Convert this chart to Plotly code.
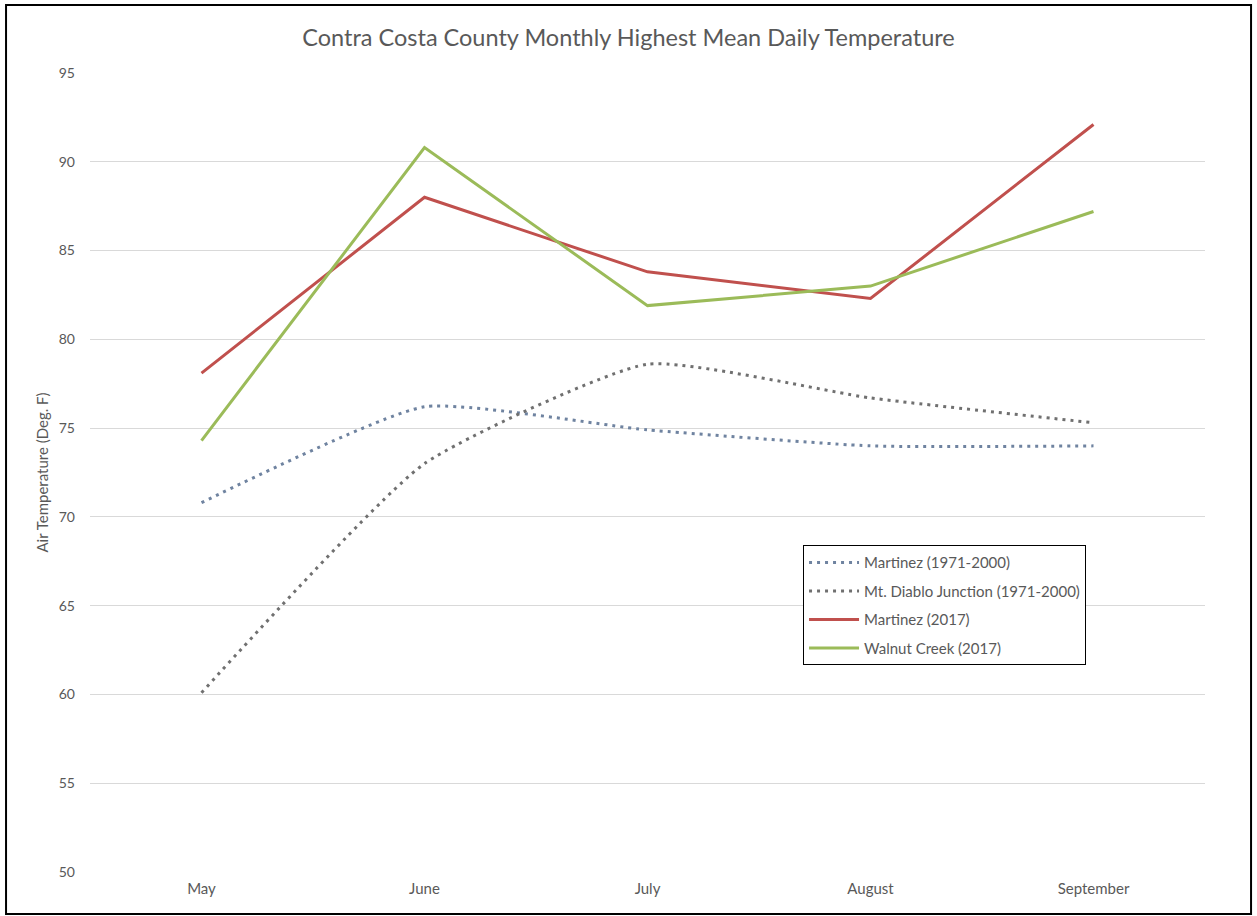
"""
Temperaturas medias diarias más altas por mes - Contra Costa County.
"""

import plotly.graph_objects as go

months = ["May", "June", "July", "August", "September"]

martinez_normal = [70.8, 76.2, 74.9, 74.0, 74.0]
diablo_normal = [60.1, 73.0, 78.6, 76.7, 75.3]
martinez_2017 = [78.1, 88.0, 83.8, 82.3, 92.1]
walnut_2017 = [74.3, 90.8, 81.9, 83.0, 87.2]

y_ticks = [50, 55, 60, 65, 70, 75, 80, 85, 90, 95]

FONT = "Lato, 'Open Sans', sans-serif"
GREY = "#595959"

fig = go.Figure()

# Series normales (punteadas, suavizadas como en Excel)
fig.add_trace(go.Scatter(
    x=months, y=martinez_normal, mode='lines',
    name='Martinez (1971-2000)', legendgroup='a',
    line=dict(color='#6f83a0', width=3, dash='3px,5px', shape='spline', smoothing=0.5)
))
fig.add_trace(go.Scatter(
    x=months, y=diablo_normal, mode='lines',
    name='Mt. Diablo Junction (1971-2000)', legendgroup='b',
    line=dict(color='#707070', width=3, dash='3px,5px', shape='spline', smoothing=0.5)
))

# Series 2017
fig.add_trace(go.Scatter(
    x=months, y=martinez_2017, mode='lines',
    name='Martinez (2017)', legendgroup='c',
    line=dict(color='#c0504d', width=3)
))
fig.add_trace(go.Scatter(
    x=months, y=walnut_2017, mode='lines',
    name='Walnut Creek (2017)', legendgroup='d',
    line=dict(color='#9bbb59', width=3)
))

# Borde exterior del gráfico
fig.add_shape(
    type='rect', xref='paper', yref='paper',
    x0=-0.0753, x1=1.0413, y0=-0.0526, y1=1.0851,
    line=dict(color='black', width=2), fillcolor='rgba(0,0,0,0)', layer='below'
)

fig.update_layout(
    width=1257, height=916,
    margin=dict(l=90, r=52, t=73, b=44),
    paper_bgcolor='white', plot_bgcolor='white',
    font=dict(family=FONT, color=GREY, size=15),
    title=dict(
        text="Contra Costa County Monthly Highest Mean Daily Temperature",
        x=0.5, xanchor='center', y=1 - 38 / 916, yanchor='middle',
        font=dict(size=23.5, color=GREY, family=FONT)
    ),
    xaxis=dict(
        range=[-0.5, 4.5], showgrid=False, zeroline=False,
        showline=False, ticks='', ticklabelstandoff=6,
        tickfont=dict(size=15, color=GREY)
    ),
    yaxis=dict(
        range=[50, 95], tickvals=y_ticks, showgrid=True, gridcolor='#d9d9d9',
        gridwidth=1, zeroline=False, showline=False, ticks='',
        ticklabelstandoff=14,
        tickfont=dict(size=14, color=GREY),
        title=dict(text="Air Temperature (Deg. F)", standoff=6,
                   font=dict(size=15, color=GREY))
    ),
    legend=dict(
        x=0.6395, y=0.409, xanchor='left', yanchor='top',
        bgcolor='white', bordercolor='black', borderwidth=1,
        font=dict(size=15, color=GREY),
        traceorder='grouped', tracegroupgap=6,
        itemwidth=50
    ),
    showlegend=True
)

fig.write_html("out.html", config={'displayModeBar': False},
               post_script="document.body.style.margin='0';")
